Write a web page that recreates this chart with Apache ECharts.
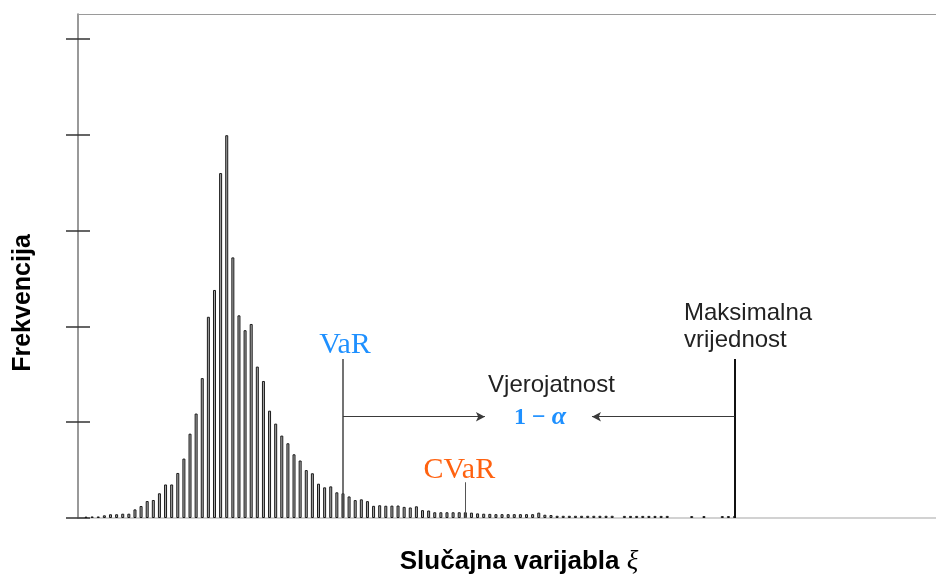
<!DOCTYPE html>
<html><head><meta charset="utf-8">
<script src="https://cdn.jsdelivr.net/npm/echarts@6/dist/echarts.min.js"></script>
<style>html,body{margin:0;padding:0;background:#fff}#c{width:936px;height:588px}</style>
</head><body><div id="c"></div>
<script>
// Frequency of each bin of the random variable (bin index = position in array)
const freq = [
  1.4, 1.6, 1.6, 2.8, 3.9, 3.9, 4.5, 4.5, 9, 12.5,
  17.7, 18.8, 25.8, 35, 35, 47, 62, 88, 109, 146,
  210, 238, 360, 399.5, 272, 211.5, 196, 202.5, 158, 143,
  112, 98.5, 86, 78, 66.5, 60, 50, 46.7, 35.8, 32,
  33, 26.8, 25.8, 22.5, 18.7, 19.5, 17.6, 12.7, 13.3, 12.8,
  12.9, 13, 11.6, 11, 12.2, 8.2, 7.8, 6, 6, 6,
  6, 6, 6, 5.6, 4.8, 4.5, 4.3, 4, 4, 4,
  4, 4, 4, 4, 5.6, 3.4, 3.1, 2.3, 2.3, 2.3,
  2.3, 2.3, 2.3, 2.3, 2.3, 2.3, 2.3, null, 2.2, 2.2,
  2.2, 2.2, 2.2, 2.2, 2.2, 2.2, null, null, null, 2,
  null, 2, null, null, 2, 2, 2
];
const yTicks = [0, 100, 200, 300, 400, 500];
// annotation anchors (data units)
const varBin = 42, cvarBin = 62, maxBin = 106;
const markerTop = 166, cvarTop = 37.3, arrowLevel = 105.7;
const arrowLeftTip = 65.2, arrowRightTip = 82.7;
const xMin = -1.31, xMax = 138.93, yMin = 0, yMax = 526;

const SERIF = '"Liberation Serif", "Times New Roman", serif';
const SANS = '"Liberation Sans", Arial, sans-serif';
const BLUE = '#1E90FF', ORANGE = '#FF6210';

const chart = echarts.init(document.getElementById('c'), null, {renderer: 'canvas'});
const barData = freq.map((v, i) => [i, v === null ? '-' : v]);

function vline(x, y0, y1, color, width) {
  return [{coord: [x, y0], symbol: 'none', lineStyle: {color: color, width: width, type: 'solid'}},
          {coord: [x, y1], symbol: 'none'}];
}
function arrow(x0, x1, y) {
  return [{coord: [x0, y], symbol: 'none', lineStyle: {color: '#3a3a3a', width: 1, type: 'solid'}},
          {coord: [x1, y], symbol: 'arrow', symbolSize: [7, 9]}];
}

chart.setOption({
  animation: false,
  backgroundColor: '#fff',
  grid: {left: 78, right: 0, top: 14, bottom: 70, containLabel: false},
  xAxis: [
    {type: 'value', min: xMin, max: xMax, position: 'bottom',
     axisLine: {show: true, onZero: false, lineStyle: {color: '#c4c4c4', width: 1.5}},
     axisTick: {show: false}, axisLabel: {show: false}, splitLine: {show: false}},
    {type: 'value', min: xMin, max: xMax, position: 'top',
     axisLine: {show: true, onZero: false, lineStyle: {color: '#9a9a9a', width: 1.2}},
     axisTick: {show: false}, axisLabel: {show: false}, splitLine: {show: false}}
  ],
  yAxis: [
    {type: 'value', min: yMin, max: yMax, position: 'left', offset: -12,
     axisLine: {show: false},
     axisTick: {show: true, inside: false, length: 24, customValues: yTicks, lineStyle: {color: '#333', width: 1.5}},
     axisLabel: {show: false}, splitLine: {show: false}},
    {type: 'value', min: yMin, max: yMax, position: 'left', offset: 0,
     axisLine: {show: true, onZero: false, lineStyle: {color: '#777', width: 1.5}},
     axisTick: {show: false},
     axisLabel: {show: false}, splitLine: {show: false}}
  ],
  series: [{
    type: 'bar',
    xAxisIndex: 0, yAxisIndex: 0,
    data: barData,
    barWidth: 3,
    itemStyle: {color: '#a8a8a8', borderColor: '#1a1a1a', borderWidth: 1},
    silent: true,
    markLine: {
      silent: true,
      symbol: 'none',
      label: {show: false},
      data: [
        vline(varBin, 0, markerTop, '#444', 1.5),
        vline(maxBin, 0, markerTop, '#111', 2),
        vline(cvarBin, 0, cvarTop, '#555', 1),
        arrow(varBin, arrowLeftTip, arrowLevel),
        arrow(maxBin, arrowRightTip, arrowLevel)
      ]
    }
  }]
});

function px(x, y) { return chart.convertToPixel({xAxisIndex: 0, yAxisIndex: 0}, [x, y]); }
const pVar = px(varBin, markerTop);
const pCvar = px(cvarBin, cvarTop);
const pMid = px((arrowLeftTip + arrowRightTip) / 2, arrowLevel);
const pMax = px(maxBin, markerTop);

chart.setOption({
  graphic: [
    {type: 'text', x: pVar[0] + 2, y: pVar[1] - 14,
     style: {text: 'VaR', font: '30px ' + SERIF, fill: BLUE, textAlign: 'center', textVerticalAlign: 'middle'}},
    {type: 'text', x: pCvar[0] - 6, y: pCvar[1] - 12.6,
     style: {text: 'CVaR', font: '30px ' + SERIF, fill: ORANGE, textAlign: 'center', textVerticalAlign: 'middle'}},
    {type: 'text', x: pMid[0] + 13, y: pMid[1] - 31.5,
     style: {text: 'Vjerojatnost', font: '24px ' + SANS, fill: '#222', textAlign: 'center', textVerticalAlign: 'middle'}},
    {type: 'text', x: pMid[0] + 1.6, y: pMid[1] + 1,
     style: {text: '{n|1 − }{a|α}', textAlign: 'center', textVerticalAlign: 'middle',
       rich: {n: {font: 'bold 24px ' + SERIF, fill: BLUE, color: BLUE},
              a: {font: 'bold italic 26px ' + SERIF, fill: BLUE, color: BLUE}}}},
    {type: 'text', x: pMax[0] - 50.5, y: pMax[1] - 45.7,
     style: {text: 'Maksimalna', font: '24px ' + SANS, fill: '#222', textAlign: 'left', textVerticalAlign: 'middle'}},
    {type: 'text', x: pMax[0] - 50.5, y: pMax[1] - 19,
     style: {text: 'vrijednost', font: '24px ' + SANS, fill: '#222', textAlign: 'left', textVerticalAlign: 'middle'}},
    {type: 'text', x: 519, y: 562,
     style: {text: '{t|Slučajna varijabla }{x|ξ}', textAlign: 'center', textVerticalAlign: 'middle',
       rich: {t: {font: 'bold 26px ' + SANS, fill: '#000', color: '#000'},
              x: {font: 'italic 27px ' + SERIF, fill: '#000', color: '#000'}}}},
    {type: 'text', x: 23, y: 303, rotation: Math.PI / 2,
     style: {text: 'Frekvencija', font: 'bold 25px ' + SANS, fill: '#000', textAlign: 'center', textVerticalAlign: 'middle'}}
  ]
});
</script>
</body></html>
